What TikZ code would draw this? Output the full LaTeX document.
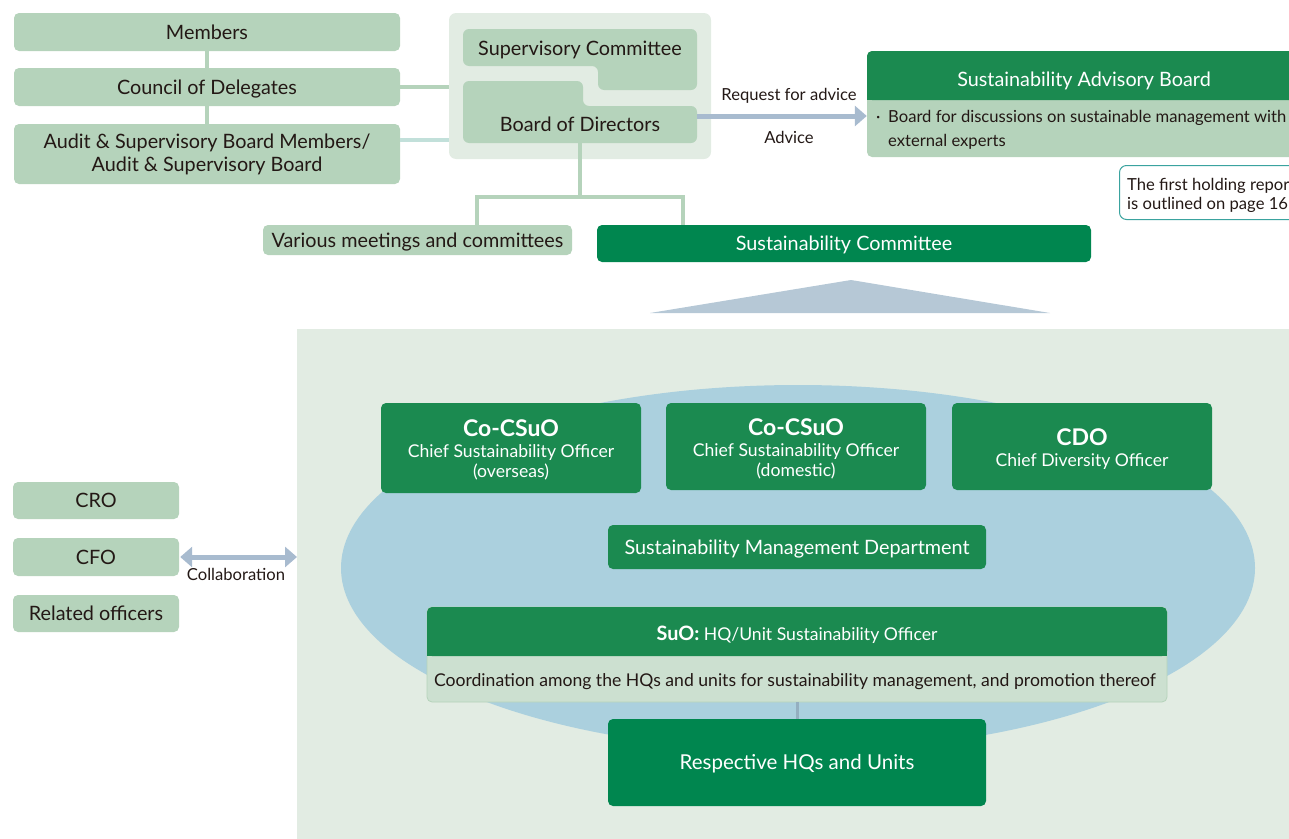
\documentclass[tikz,border=0pt]{standalone}
\usepackage{fontspec}
\setmainfont{Lato}
\usetikzlibrary{arrows.meta}
\definecolor{lightg}{HTML}{B5D3BB}
\definecolor{panelc}{HTML}{E2ECE3}
\definecolor{darkg}{HTML}{1B8A50}
\definecolor{deepg}{HTML}{00864F}
\definecolor{bodyg}{HTML}{CCE0D0}
\definecolor{ellipc}{HTML}{ABD0DE}
\definecolor{arrowc}{HTML}{A8BBCF}
\definecolor{tric}{HTML}{B6C8D6}
\definecolor{tealc}{HTML}{3AA39F}
\definecolor{textc}{HTML}{231815}
\definecolor{auditc}{HTML}{C2E0DA}
\definecolor{linkc}{HTML}{94AFC0}
\begin{document}
\begin{tikzpicture}[x=1pt,y=-1pt,
  capc/.style={text height=#1, text depth=0pt},
  lbox/.style={fill=lightg, rounded corners=5pt, inner sep=0pt, text=textc, align=center,
     font=\fontsize{19.8}{23}\selectfont},
  dbox/.style={fill=darkg, rounded corners=5pt, inner sep=0pt, text=white, align=center,
     font=\fontsize{19.8}{23}\selectfont},
  dtxt/.style={inner sep=0pt, text=white, align=center, font=\fontsize{17.6}{20.5}\selectfont},
  txt/.style={inner sep=0pt, text=textc, font=\fontsize{16.6}{20}\selectfont},
  conn/.style={draw=lightg, line width=3.5pt},
  flow/.style={draw=arrowc, line width=5pt, -{Triangle[length=12pt,width=20pt]}},
  both/.style={draw=arrowc, line width=5pt, {Triangle[length=12pt,width=20pt]}-{Triangle[length=12pt,width=20pt]}},
]
\useasboundingbox (0,0) rectangle (1289,838);
\clip (0,0) rectangle (1289,838);

% governance column
\node[lbox, capc=14.2pt, minimum width=386pt, minimum height=38pt] (mem) at (207,32) {Members};
\node[lbox, capc=14.2pt, minimum width=386pt, minimum height=38pt] (cod) at (207,87) {Council of Delegates};
\node[lbox, minimum width=386pt, minimum height=60pt] (asb) at (207,154)
  {Audit \& Supervisory Board Members/\\Audit \& Supervisory Board};
\draw[conn] (mem.south) -- (cod.north);
\draw[conn] (cod.south) -- (asb.north);

% board group
\node[fill=panelc, rounded corners=7pt, minimum width=262pt, minimum height=146pt, inner sep=0pt] (grp) at (580,86) {};
\draw[conn] (cod.east) -- (cod.east -| grp.west);
\coordinate (auditR) at ([yshift=14pt]asb.east);
\draw[draw=auditc, line width=3.5pt] (auditR) -- (auditR -| grp.west);

\fill[lightg, rounded corners=6pt] (463,29) -- (697,29) -- (697,90) -- (598,90) -- (598,66) -- (463,66) -- cycle;
\fill[lightg, rounded corners=6pt] (463,81) -- (583,81) -- (583,106) -- (697,106) -- (697,143) -- (463,143) -- cycle;
\node[txt, capc=14.2pt, font=\fontsize{19.8}{23}\selectfont] (sc) at (580,48) {Supervisory Committee};
\node[txt, capc=14.2pt, font=\fontsize{19.8}{23}\selectfont, minimum width=234pt, minimum height=37pt] (bod) at (580,124) {Board of Directors};

% advisory board
\node[fill=lightg, rounded corners=5pt, minimum width=434pt, minimum height=106pt, inner sep=0pt] (sab) at (1084,104) {};
\fill[darkg, rounded corners=5pt] (867,51) rectangle (1301,100);
\fill[darkg] (867,90) rectangle (1301,100);
\node[txt, capc=14.2pt, text=white, font=\fontsize{19.8}{23}\selectfont] (sabt) at (1084,79) {Sustainability Advisory Board};
\node[txt, anchor=base west] (sabb0) at (876,122) {·};
\node[txt, anchor=base west] (sabb1) at (888,122) {Board for discussions on sustainable management with};
\node[txt, anchor=base west] (sabb2) at (888,146) {external experts};

\coordinate (arrS) at ([yshift=8pt]bod.east);
\draw[flow] (arrS) -- (arrS -| sab.west);
\node[txt, anchor=base] (req) at (789,100) {Request for advice};
\node[txt, anchor=base] (adv) at (789,143) {Advice};

% note
\node[draw=tealc, line width=1pt, rounded corners=7pt, minimum width=200pt, minimum height=54pt, anchor=north west, inner sep=0pt] (note) at (1119,165) {};
\node[txt, anchor=base west] (note1) at (1127,190) {The first holding repor};
\node[txt, anchor=base west] (note2) at (1127,209) {is outlined on page 16};

% committees
\node[lbox, capc=14pt, minimum width=309pt, minimum height=30pt] (vmc) at (417.5,240) {Various meetings and committees};
\node[fill=deepg, rounded corners=5pt, inner sep=0pt, text=white, font=\fontsize{19.8}{23}\selectfont, capc=14.2pt,
      minimum width=494pt, minimum height=37pt] (scom) at (844,243.5) {Sustainability Committee};
\coordinate (j) at (580,197);
\draw[conn] (bod.south) -- (j);
\draw[conn] ([xshift=59.5pt]vmc.north) |- (j) -| ([xshift=-161pt]scom.north);

% triangle
\fill[tric] (851,280) -- (1050,313) -- (650,313) -- cycle;

% panel
\node[fill=panelc, minimum width=1010pt, minimum height=530pt, anchor=north west, inner sep=0pt] (pnl) at (297,329) {};
\fill[ellipc] (798,568) ellipse [x radius=457, y radius=183];

% officers
\node[dbox, minimum width=260pt, minimum height=90pt] (co1) at (511,448) {};
\node[dtxt] (co1t) at (511,450)
  {{\fontsize{23}{23}\selectfont\bfseries Co-CSuO}\\Chief Sustainability Officer\\(overseas)};
\node[dbox, minimum width=260pt, minimum height=87pt] (co2) at (796,446.5) {};
\node[dtxt] (co2t) at (796,449)
  {{\fontsize{23}{23}\selectfont\bfseries Co-CSuO}\\Chief Sustainability Officer\\(domestic)};
\node[dbox, minimum width=260pt, minimum height=87pt] (cdo) at (1082,446.5) {};
\node[dtxt] (cdot) at (1082,449)
  {{\fontsize{23}{23}\selectfont\bfseries CDO}\\Chief Diversity Officer};
\node[dbox, capc=14.2pt, minimum width=378pt, minimum height=44pt] (smd) at (797,547) {Sustainability Management Department};

% SuO
\node[fill=bodyg, draw=lightg, line width=0.8pt, rounded corners=5pt, minimum width=740pt, minimum height=95pt, inner sep=0pt] (suo) at (797,654.5) {};
\fill[darkg, rounded corners=5pt] (427,607) rectangle (1167,656);
\fill[darkg] (427,646) rectangle (1167,656);
\node[txt, capc=14.3pt, text=white, font=\fontsize{17.6}{20}\selectfont] (suot) at (797,633)
  {{\fontsize{19.8}{20}\selectfont\bfseries SuO:} HQ/Unit Sustainability Officer};
\node[txt, capc=12.6pt, font=\fontsize{17.6}{20}\selectfont] (suob) at (795,680)
  {Coordination among the HQs and units for sustainability management, and promotion thereof};

\node[fill=deepg, rounded corners=5pt, inner sep=0pt, text=white, font=\fontsize{20.5}{23}\selectfont, capc=14.7pt,
      minimum width=378pt, minimum height=87pt] (resp) at (797,762.5) {Respective HQs and Units};
\draw[draw=linkc, line width=3pt] (suo.south) -- (resp.north);

% left officers
\node[lbox, capc=14.2pt, minimum width=166pt, minimum height=37pt] (cro) at (96,500.5) {CRO};
\node[lbox, capc=14.2pt, minimum width=166pt, minimum height=38pt] (cfo) at (96,557) {CFO};
\node[lbox, capc=14.2pt, minimum width=166pt, minimum height=37pt] (rel) at (96,613.5) {Related officers};
\draw[both] ([xshift=1pt]cfo.east) -- (cfo.east -| pnl.west);
\node[txt, anchor=base] (collab) at (236,580) {Collaboration};
\end{tikzpicture}
\end{document}
